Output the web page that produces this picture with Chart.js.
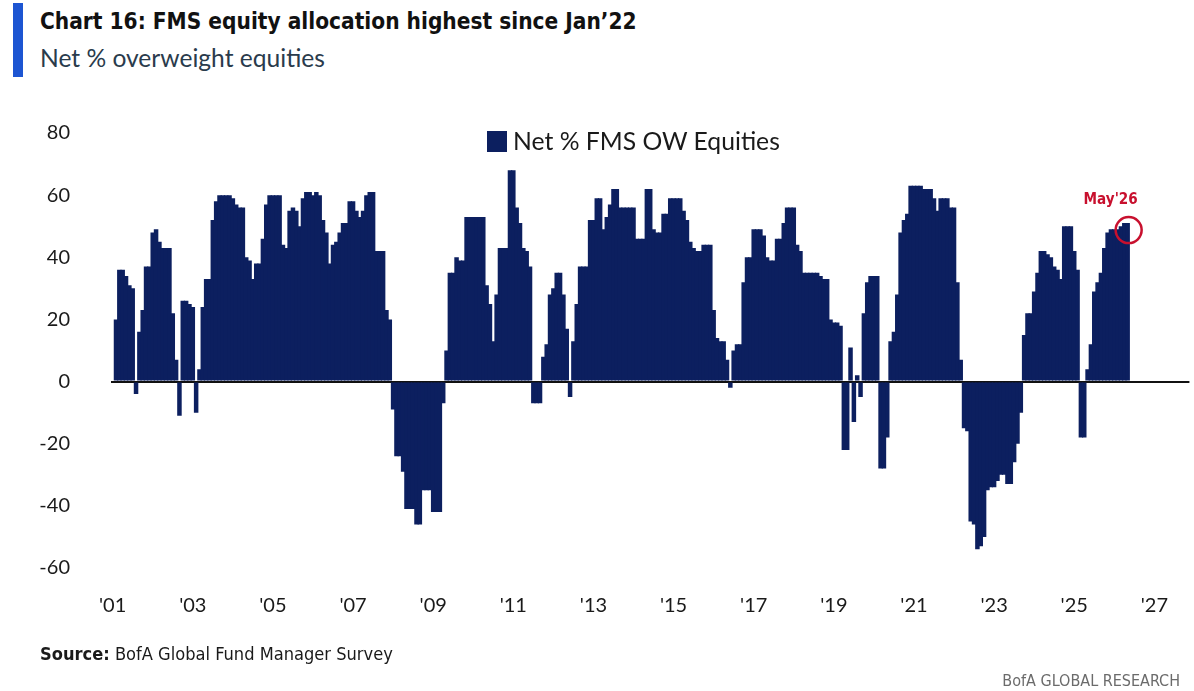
<!DOCTYPE html>
<html>
<head>
<meta charset="utf-8">
<title>FMS equity allocation</title>
<script src="https://cdn.jsdelivr.net/npm/chart.js@4.4.1/dist/chart.umd.min.js"></script>
<style>
  html, body { margin: 0; padding: 0; background: #ffffff; }
  body { position: relative; width: 1194px; height: 691px; overflow: hidden; font-family: Lato, "Open Sans", sans-serif; }
  .accent { position: absolute; left: 13px; top: 3px; width: 10px; height: 74px; background: #1d55d2; }
  .txt { position: absolute; white-space: nowrap; line-height: 1; }
  #title { left: 40px; top: 10px; font-family: "Liberation Sans Narrow", "DejaVu Sans Condensed", sans-serif; font-weight: bold; font-size: 28px; color: #111111; }
  #subtitle { left: 40px; top: 46px; font-size: 24px; color: #2a3b4c; }
  #legend { position: absolute; left: 487px; top: 129px; display: flex; align-items: center; }
  #legend .box { width: 20px; height: 21px; background: #0c1f5f; margin-right: 6px; }
  #legendText { font-size: 20px; color: #1a1a1a; line-height: 1; white-space: nowrap; }
  #source { left: 40px; top: 645px; font-family: "Liberation Sans Narrow", "DejaVu Sans Condensed", sans-serif; font-size: 17px; color: #1a1a1a; }
  #footer { right: 14px; top: 673px; font-family: "Liberation Sans Narrow", "DejaVu Sans Condensed", sans-serif; font-size: 16px; color: #6b6b6b; }
  #chart { position: absolute; left: 0; top: 0; }
</style>
</head>
<body>
<div class="accent"></div>
<div class="txt" id="title">Chart 16: FMS equity allocation highest since Jan’22</div>
<div class="txt" id="subtitle">Net % overweight equities</div>
<canvas id="chart" width="1194" height="691"></canvas>
<div id="legend"><div class="box"></div><span id="legendText">Net % FMS OW Equities</span></div>
<div class="txt" id="source"><b>Source:</b> BofA Global Fund Manager Survey</div>
<div class="txt" id="footer">BofA GLOBAL RESEARCH</div>

<script>
// monthly net % overweight equities, Feb 2001 .. May 2026
var dataStart = "2001-02";
var equityOW = [
  20, 36, 36, 34, 31, 30, -4, 16, 23, 37, 37, 48,
  49, 45, 43, 43, 43, 22, 7, -11, 26, 26, 25, 24,
  -10, 4, 24, 33, 33, 52, 58, 60, 60, 60, 60, 59,
  57, 56, 56, 40, 39, 33, 38, 38, 46, 57, 60, 60,
  60, 60, 44, 43, 55, 56, 55, 50, 59, 61, 61, 60,
  61, 60, 52, 48, 38, 44, 45, 48, 51, 51, 58, 58,
  55, 53, 55, 60, 61, 61, 42, 42, 42, 23, 20, -9,
  -24, -24, -29, -41, -41, -41, -46, -46, -35, -35, -35, -42,
  -42, -42, -7, 10, 35, 35, 40, 39, 39, 53, 53, 53,
  53, 53, 53, 31, 25, 13, 28, 43, 43, 43, 68, 68,
  56, 51, 43, 42, 37, -7, -7, -7, 8, 12, 28, 30,
  35, 35, 28, 17, -5, 13, 25, 37, 37, 37, 52, 52,
  59, 59, 49, 53, 57, 62, 62, 56, 56, 56, 56, 56,
  46, 46, 46, 62, 62, 49, 48, 48, 54, 54, 59, 59,
  59, 59, 55, 52, 45, 43, 42, 42, 44, 44, 44, 23,
  14, 13, 13, 7, -2, 10, 12, 12, 32, 40, 40, 49,
  49, 49, 47, 40, 39, 39, 46, 46, 51, 56, 56, 56,
  44, 42, 35, 35, 35, 35, 35, 34, 33, 33, 20, 19,
  19, 18, -22, -22, 11, -13, 2, -5, 22, 32, 34, 34,
  34, -28, -28, -18, 13, 16, 28, 48, 52, 54, 63, 63,
  63, 63, 62, 62, 62, 59, 55, 59, 59, 59, 56, 56,
  32, 7, -15, -16, -45, -46, -54, -53, -50, -35, -34, -34,
  -32, -30, -30, -33, -33, -26, -20, -10, 15, 22, 22, 29,
  35, 42, 42, 41, 40, 37, 36, 33, 50, 50, 50, 42,
  36, -18, -18, 4, 12, 29, 32, 35, 43, 48, 49, 49,
  49, 50, 51, 51
];
var tickYears = [2001, 2003, 2005, 2007, 2009, 2011, 2013, 2015, 2017, 2019, 2021, 2023, 2025, 2027];
var yTicks = [-60, -40, -20, 0, 20, 40, 60, 80];
var highlightLabel = "May'26";

// axis runs Jan 2001 .. Nov 2027
var months = [];
for (var y = 2001; y <= 2027; y++) {
  for (var m = 1; m <= 12; m++) {
    if (y === 2027 && m > 11) break;
    months.push(y + "-" + (m < 10 ? "0" + m : m));
  }
}

function fitWidth(id, width) {
  var el = document.getElementById(id);
  var size = parseFloat(getComputedStyle(el).fontSize);
  var w = el.getBoundingClientRect().width;
  if (w > 0) el.style.fontSize = (size * width / w).toFixed(2) + "px";
}

var highlightPlugin = {
  id: "highlight",
  afterDatasetsDraw: function (chart) {
    var meta = chart.getDatasetMeta(0);
    var data = chart.data.datasets[0].data;
    var last = -1;
    for (var i = 0; i < data.length; i++) if (data[i] !== null) last = i;
    if (last < 0) return;
    var bar = meta.data[last];
    var ctx = chart.ctx;
    var family = "'DejaVu Sans Condensed', Lato, sans-serif";
    ctx.save();
    ctx.strokeStyle = "#c8102e";
    ctx.lineWidth = 2.5;
    ctx.beginPath();
    ctx.arc(bar.x + 1, bar.y + 7, 13, 0, Math.PI * 2);
    ctx.stroke();
    ctx.font = "bold 20px " + family;
    var w = ctx.measureText(highlightLabel).width;
    ctx.font = "bold " + (20 * 54 / w).toFixed(1) + "px " + family;
    ctx.fillStyle = "#c8102e";
    ctx.textAlign = "center";
    ctx.textBaseline = "alphabetic";
    ctx.fillText(highlightLabel, bar.x - 17, bar.y - 19);
    ctx.restore();
  }
};

function buildChart() {
  fitWidth("title", 597);
  fitWidth("subtitle", 285);
  fitWidth("legendText", 267);
  fitWidth("source", 353);

  var offset = months.indexOf(dataStart);
  var series = months.map(function (mo, i) {
    var k = i - offset;
    return k >= 0 && k < equityOW.length ? equityOW[k] : null;
  });

  new Chart(document.getElementById("chart"), {
    type: "bar",
    data: {
      labels: months,
      datasets: [{
        label: "Net % FMS OW Equities",
        data: series,
        backgroundColor: "#0c1f5f",
        borderWidth: 0,
        barPercentage: 1.35,
        categoryPercentage: 1.0
      }]
    },
    plugins: [highlightPlugin],
    options: {
      responsive: false,
      animation: false,
      devicePixelRatio: 1,
      layout: { padding: { top: 133, left: 0, right: 0, bottom: 0 } },
      plugins: {
        legend: { display: false },
        tooltip: { enabled: false }
      },
      scales: {
        x: {
          grid: { display: false, drawTicks: false },
          border: { display: false },
          afterFit: function (scale) { scale.height = 123; },
          ticks: {
            autoSkip: false,
            maxRotation: 0,
            padding: 26,
            color: "#1a1a1a",
            font: { family: "Lato, 'Open Sans', sans-serif", size: 20 },
            callback: function (value, index) {
              var parts = months[index].split("-");
              var yr = parseInt(parts[0], 10);
              if (parts[1] === "01" && tickYears.indexOf(yr) >= 0) return "'" + parts[0].slice(2);
              return null;
            }
          }
        },
        y: {
          min: yTicks[0],
          max: yTicks[yTicks.length - 1],
          z: 1,
          afterFit: function (scale) { scale.width = 111; },
          afterBuildTicks: function (scale) {
            scale.ticks = yTicks.map(function (v) { return { value: v }; });
          },
          border: { display: false },
          grid: {
            drawTicks: false,
            lineWidth: 2,
            color: function (c) { return c.tick && c.tick.value === 0 ? "#111111" : "rgba(0,0,0,0)"; }
          },
          ticks: {
            padding: 41,
            color: "#1a1a1a",
            font: { family: "Lato, 'Open Sans', sans-serif", size: 20 }
          }
        }
      }
    }
  });
}

document.addEventListener("DOMContentLoaded", buildChart);
</script>
</body>
</html>
